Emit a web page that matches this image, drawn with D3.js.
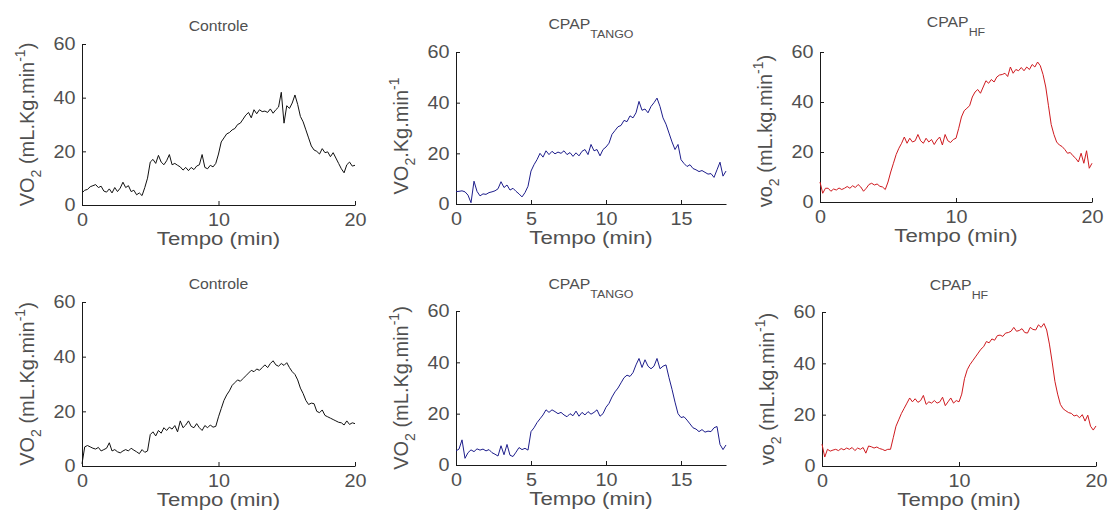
<!DOCTYPE html>
<html>
<head>
<meta charset="utf-8">
<script src="https://cdn.jsdelivr.net/npm/d3@7"></script>
<style>
body { margin: 0; background: #fff; }
svg { display: block; font-family: "Liberation Sans", Arial, sans-serif; font-weight: 400; }
</style>
</head>
<body>
<svg id="chart" width="1109" height="517"></svg>
<script>
// sampling step of the VO2 series (min)
var tStep = 0.2;

var vo2ControleA = [
    4.5, 5.5, 5.8, 6.8, 7.2, 7.6, 6.5, 7.0, 5.2, 4.8,
    6.0, 4.5, 6.5, 5.0, 6.3, 8.5, 6.5, 7.2, 5.0, 5.5,
    3.8, 4.5, 3.5, 6.5, 10.0, 16.0, 17.0, 15.5, 18.5, 16.0,
    15.0, 16.5, 18.8, 15.0, 15.5, 14.8, 14.2, 13.0, 14.0, 12.8,
    14.0, 13.2, 14.5, 15.0, 18.8, 14.0, 13.5, 14.8, 14.2, 15.5,
    19.0, 23.5, 25.0, 26.5, 27.0, 28.0, 28.5, 30.0, 30.5, 32.0,
    33.5, 34.5, 32.5, 35.5, 34.0, 35.5, 34.8, 35.0, 34.5, 35.8,
    34.2, 35.5, 36.5, 42.0, 30.5, 37.0, 36.0, 38.0, 41.0, 37.5,
    33.0, 31.0, 28.0, 25.0, 22.0, 20.5, 20.0, 19.0, 21.0, 19.5,
    19.8, 18.0, 19.5, 17.5, 15.5, 13.5, 12.0, 15.0, 16.0, 14.5,
    14.8
];
var vo2TangoA = [
    4.9, 5.0, 5.2, 4.8, 3.5, 0.5, 9.0, 5.0, 3.2, 4.0,
    3.8, 4.5, 4.8, 5.2, 6.0, 8.8, 6.5, 7.5, 5.5, 6.2,
    5.0, 4.0, 2.8, 4.5, 7.0, 13.0, 15.5, 17.5, 20.0, 18.5,
    21.0, 19.5, 20.8, 19.8, 20.5, 20.0, 21.0, 19.5, 20.3, 18.8,
    20.2, 19.0, 20.8, 21.5, 19.5, 23.5, 21.0, 21.5, 19.0, 21.5,
    22.5, 24.0, 27.5, 29.0, 30.5, 31.0, 33.0, 32.5, 34.8, 34.0,
    36.0, 40.5, 37.0, 37.5, 36.0, 38.5, 40.0, 41.8, 38.5, 34.0,
    31.5, 28.0, 24.5, 21.5, 23.5, 17.5, 16.0, 14.8, 15.5, 14.0,
    13.5, 12.8, 13.2, 12.5, 11.8, 12.0, 10.5, 13.5, 16.5, 11.0,
    13.0
];
var vo2HfA = [
    8.0, 3.5, 5.5, 5.5, 4.3, 5.2, 4.8, 5.6, 5.0, 5.5,
    6.2, 5.5, 6.5, 5.8, 7.0, 6.0, 4.3, 5.5, 7.0, 7.5,
    6.8, 7.2, 6.3, 6.0, 5.0, 8.0, 12.0, 15.5, 19.0, 21.5,
    23.5, 26.0, 23.5, 25.5, 24.0, 24.5, 27.0, 24.5, 23.5, 25.5,
    24.0, 25.0, 23.0, 24.8, 26.0, 22.8, 27.0, 24.5, 23.8, 25.0,
    25.5, 29.5, 34.0, 36.5, 37.5, 38.5, 42.0, 44.0, 45.0, 43.5,
    46.0, 48.5, 47.5, 49.0, 48.0, 50.0, 50.8, 51.0, 51.5, 50.2,
    54.0, 51.5, 53.0, 52.5, 53.8, 52.5, 54.0, 53.0, 55.0, 54.0,
    56.0, 54.5, 51.0, 46.0, 38.5, 31.0, 27.0, 24.0, 22.8, 22.2,
    21.0, 19.5, 19.8, 18.5, 17.5, 16.0, 19.5, 15.5, 20.5, 13.5,
    15.5
];
var vo2ControleB = [
    0.8, 7.0, 7.5, 7.0, 6.5, 6.2, 6.8, 5.5, 6.0, 6.5,
    8.5, 5.5, 6.0, 5.2, 4.8, 5.5, 6.0, 5.5, 6.5, 5.8,
    5.2, 4.5, 6.0, 5.0, 5.5, 11.5, 12.5, 11.0, 13.0, 12.0,
    14.0, 13.0, 14.2, 13.5, 14.8, 12.5, 16.5, 14.0, 15.0, 16.5,
    14.5, 14.0, 15.5, 14.0, 13.0, 14.8, 14.0, 15.0, 14.2, 14.5,
    18.0, 21.0, 24.0, 26.0, 27.5, 29.5, 30.5, 31.5, 31.0, 32.0,
    33.0, 34.0, 35.0, 34.5, 35.5, 35.0, 36.0, 37.0, 36.0, 37.5,
    38.5, 37.0, 36.5, 37.5, 36.8, 37.8, 36.0, 34.5, 33.5, 31.5,
    28.5, 26.5, 24.0, 22.5, 23.0, 22.8, 20.0, 19.5, 20.5, 18.5,
    18.0, 17.5, 17.0, 16.5, 16.0, 15.8, 15.0, 16.5, 15.2, 15.8,
    15.5
];
var vo2TangoB = [
    5.5, 6.2, 9.8, 2.6, 4.8, 5.9, 5.2, 6.3, 5.8, 6.2,
    5.5, 6.0, 4.8, 4.2, 3.5, 7.5, 4.0, 8.0, 3.8, 3.3,
    5.0, 6.8, 6.0, 6.5, 5.8, 13.0, 14.5, 16.5, 18.0, 19.5,
    21.5, 20.5, 21.5, 20.8, 20.0, 20.5, 19.5, 18.8, 20.0, 19.2,
    21.0, 19.0, 20.5, 19.5, 20.8, 19.8, 20.5, 21.5, 19.0, 20.0,
    22.5, 24.0, 26.5, 28.5, 30.0, 32.0, 34.0, 35.0, 34.5, 36.0,
    39.0, 41.5, 38.0, 41.0, 38.5, 37.5, 38.5, 41.5, 37.5, 38.5,
    39.0, 34.0, 29.5, 24.5, 20.0, 18.5, 18.8, 17.5, 16.0, 14.5,
    14.0, 13.0, 13.8, 12.8, 13.2, 13.0, 14.5, 15.0, 8.0, 6.0,
    7.8
];
var vo2HfB = [
    8.5, 3.5, 6.5, 5.8, 6.2, 6.5, 6.0, 6.8, 6.3, 7.0,
    6.5, 7.2, 6.0, 7.0, 6.5, 7.2, 5.0, 7.8, 7.5, 7.0,
    7.4, 6.8, 6.5, 6.0, 6.5, 6.5, 11.0, 15.5, 18.0, 20.5,
    22.5, 24.5, 26.5, 25.0, 26.2, 24.8, 25.5, 27.5, 24.0, 25.0,
    24.5, 25.5, 24.5, 25.0, 26.8, 23.5, 25.0, 26.5, 24.5, 25.5,
    25.0, 28.0, 34.0, 37.5, 39.5, 41.0, 42.5, 44.0, 45.5, 46.5,
    48.5, 48.0, 49.5, 49.0, 50.8, 51.0, 50.5, 51.8, 52.0, 52.5,
    54.0, 52.5, 52.8, 53.5, 52.0, 51.8, 54.0, 53.2, 53.0, 55.0,
    54.0, 55.5, 53.0, 47.5, 40.5, 33.0, 28.0, 24.0, 22.3, 21.5,
    20.8, 20.5, 19.5, 19.8, 18.8, 20.0, 17.5, 19.8, 15.5, 14.0,
    15.6
];

var xTicks20 = [0, 10, 20];
var xTicks18 = [0, 5, 10, 15];
var yTicks = [0, 20, 40, 60];

// [text, 0 normal | 1 sub | -1 sup]
var titleControle = [["Controle", 0]];
var titleTango = [["CPAP", 0], ["TANGO", 1]];
var titleHf = [["CPAP", 0], ["HF", 1]];
var ylabVO = [["VO", 0], ["2", 1], [" (mL.Kg.min", 0], ["-1", -1], [")", 0]];
var ylabVOshort = [["VO", 0], ["2", 1], [".Kg.min", 0], ["-1", -1]];
var ylabVo = [["vo", 0], ["2", 1], [" (mL.kg.min", 0], ["-1", -1], [")", 0]];
var xlabText = "Tempo (min)";

var black = "#111111", blue = "#1e1e8c", red = "#cf1a1f";
var textColor = "#505050";

var panels = [
    { data: vo2ControleA, tMax: 20, ticks: xTicks20, title: titleControle, ylab: ylabVO, color: black, left: 82, right: 355, top: 44, bottom: 205, titleY: 31, ylabShift: 0 },
    { data: vo2TangoA, tMax: 18, ticks: xTicks18, title: titleTango, ylab: ylabVOshort, color: blue, left: 456, right: 726, top: 52, bottom: 204, titleY: 29, ylabShift: 8 },
    { data: vo2HfA, tMax: 20, ticks: xTicks20, title: titleHf, ylab: ylabVo, color: red, left: 820, right: 1092, top: 52, bottom: 202, titleY: 27, ylabShift: 4 },
    { data: vo2ControleB, tMax: 20, ticks: xTicks20, title: titleControle, ylab: ylabVO, color: black, left: 82, right: 355, top: 302, bottom: 466, titleY: 289, ylabShift: 0 },
    { data: vo2TangoB, tMax: 18, ticks: xTicks18, title: titleTango, ylab: ylabVO, color: blue, left: 456, right: 726, top: 311, bottom: 465, titleY: 289, ylabShift: 0 },
    { data: vo2HfB, tMax: 20, ticks: xTicks20, title: titleHf, ylab: ylabVo, color: red, left: 822, right: 1096, top: 312, bottom: 466, titleY: 290, ylabShift: 0 }
];

var svg = d3.select("#chart");
svg.append("rect").attr("width", 1109).attr("height", 517).attr("fill", "#fff");

function richText(sel, parts, size, small, subDy, supDy) {
    let cur = 0;
    parts.forEach(p => {
        let target = p[1] == 1 ? subDy : (p[1] == -1 ? -supDy : 0);
        sel.append("tspan")
            .attr("font-size", p[1] == 0 ? size : small)
            .attr("dy", target - cur)
            .text(p[0]);
        cur = target;
    });
}

function drawPanel(p) {
    let x = d3.scaleLinear().domain([0, p.tMax]).range([p.left, p.right]);
    let y = d3.scaleLinear().domain([0, 60]).range([p.bottom, p.top]);
    let g = svg.append("g");

    let xAxis = g.append("g")
        .attr("transform", "translate(0," + p.bottom + ")")
        .call(d3.axisBottom(x).tickValues(p.ticks).tickSizeInner(-4).tickSizeOuter(0).tickPadding(8));
    let yAxis = g.append("g")
        .attr("transform", "translate(" + p.left + ",0)")
        .call(d3.axisLeft(y).tickValues(yTicks).tickSizeInner(-4).tickSizeOuter(0).tickPadding(6));

    [xAxis, yAxis].forEach(a => {
        a.attr("font-size", 18).attr("font-family", null).style("color", "#1a1a1a");
        a.selectAll("text").attr("fill", textColor).attr("font-weight", 400).attr("transform", "scale(1.1,1)");
    });

    // curve
    let line = d3.line()
        .x((d, i) => x(i * tStep))
        .y(d => y(d));
    g.append("path")
        .datum(p.data)
        .attr("d", line)
        .attr("fill", "none")
        .attr("stroke", p.color)
        .attr("stroke-width", 1)
        .attr("stroke-linejoin", "round");

    // title
    let t = g.append("text")
        .attr("transform", "translate(" + (p.left + p.right) / 2 + "," + p.titleY + ") scale(1.13,1)")
        .attr("text-anchor", "middle")
        .attr("font-weight", 400)
        .attr("fill", textColor);
    richText(t, p.title, 14, 11, 9, 5);

    // x label
    g.append("text")
        .attr("transform", "translate(" + (p.left + p.right) / 2 + "," + (p.bottom + 40) + ") scale(1.17,1)")
        .attr("text-anchor", "middle")
        .attr("font-size", 19)
        .attr("font-weight", 400)
        .attr("fill", textColor)
        .text(xlabText);

    // y label
    let yl = g.append("text")
        .attr("transform", "translate(" + (p.left - 48) + "," + ((p.top + p.bottom) / 2 + p.ylabShift) + ") rotate(-90)")
        .attr("text-anchor", "middle")
        .attr("font-weight", 400)
        .attr("fill", textColor);
    richText(yl, p.ylab, 20, 14, 7, 9);
}

panels.forEach(drawPanel);
</script>
</body>
</html>
